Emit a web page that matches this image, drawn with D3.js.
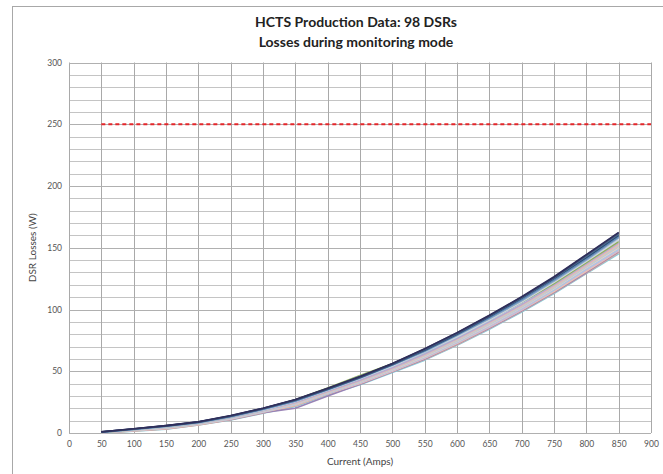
<!DOCTYPE html>
<html><head><meta charset="utf-8">
<script src="https://cdn.jsdelivr.net/npm/d3@7"></script>
<style>
body{margin:0;background:#fff;}
svg{display:block;font-family:Lato,"Open Sans",sans-serif;}
</style></head>
<body>
<svg id="chart" width="663" height="474"></svg>
<script>
const titleLines = ["HCTS Production Data: 98 DSRs", "Losses during monitoring mode"];
const xLabel = "Current (Amps)";
const yLabel = "DSR Losses (W)";
const xTicks = [0,50,100,150,200,250,300,350,400,450,500,550,600,650,700,750,800,850,900];
const yTicks = [0,50,100,150,200,250,300];
const limitValue = 250;
const currents = [50,100,150,200,250,300,350,400,450,500,550,600,650,700,750,800,850];

// Loss curves (W) for the DSRs (lower/pastel first, darker on top)
const dsrLosses = [
  [0.0,1.5,3.0,6.5,10.5,16.0,21.5,31.0,39.0,49.0,59.0,71.0,84.0,98.0,113,129,145],
  [0.1,1.7,3.2,6.6,10.8,16.2,22.0,31.5,39.5,49.5,59.5,71.5,84.5,98.5,113.5,129.5,146],
  [0.2,2.0,3.5,7.0,11.0,16.5,20.0,30.0,39.5,49.5,60.0,72.0,85.0,99.0,114,130,147],
  [0.2,1.8,3.4,6.8,11.2,16.8,22.5,31.8,40.0,50.0,60.5,72.5,85.5,99.5,114.5,131,147.5],
  [0.3,2.1,3.8,7.1,11.4,17.0,23.0,32.0,40.5,50.5,61.0,73.0,86.0,100,115.5,132,148],
  [0.3,2.2,4.0,7.2,11.6,17.2,23.2,32.2,41.0,51.0,61.5,73.5,87.0,101,116,133,149],
  [0.4,2.3,4.1,7.4,11.8,17.4,23.5,32.5,41.3,51.3,62.0,74.0,87.5,101.5,117,134,150],
  [0.4,2.4,4.2,7.5,12.0,17.6,23.8,32.8,41.6,51.6,62.5,74.5,88.0,102,117.5,134.5,151],
  [0.5,2.4,4.3,7.7,12.1,17.8,24.0,33.0,42.0,52.0,63.0,75.0,88.5,102.5,118,135,151.5],
  [0.5,2.5,4.5,7.8,12.3,18.0,24.3,33.2,42.2,52.2,63.2,75.5,89.0,103,118.5,135.5,152],
  [0.5,2.5,4.6,8.0,12.5,18.2,24.5,33.5,42.5,52.5,63.5,76.0,89.5,103.5,119,136,153],
  [0.6,2.6,4.7,8.0,12.6,18.3,24.8,33.8,42.8,52.8,64.0,76.5,90.0,104,120,137,154],
  [0.5,2.6,4.8,8.0,12.8,18.5,25.5,34.5,44.0,54.0,65.0,77.5,91.0,105.5,121,138,156],
  [0.5,2.9,5.0,8.4,13.2,19.5,27.0,36.5,46.5,56.0,67.0,79.0,92.0,106,121,138,155],
  [0.6,2.7,4.9,8.2,12.9,18.7,25.6,34.6,44.2,54.3,65.5,78.0,91.5,106,122,139,156.5],
  [0.7,2.8,5.2,8.3,13.0,19.0,26.0,35.5,46.0,55.0,66.0,79.0,92.5,107,123,140,158],
  [0.6,3.0,5.5,8.5,13.4,19.3,26.0,35.0,44.5,55.0,66.5,79.5,93.5,108,124,141,159],
  [0.7,3.1,5.6,8.6,13.5,19.4,26.2,35.2,44.8,55.2,66.8,79.8,93.8,108.5,124.5,141.5,159.5],
  [0.8,3.2,5.8,8.8,13.6,19.6,26.5,35.5,45.0,55.5,67.0,80.0,94.0,109,125,142,160],
  [0.9,3.3,5.9,8.9,13.8,19.8,26.8,35.8,45.3,55.8,67.5,80.5,94.5,109.5,125.5,143,161],
  [1.0,3.5,6.0,9.0,14.0,20.0,27.0,36.0,45.5,56.0,68.0,81.0,95.0,110,126,144,162],
  [0.9,3.4,6.0,9.1,14.1,20.1,27.2,36.3,45.8,56.3,68.3,81.3,95.3,110.3,126.5,144.5,162.5]
];

const palette = ["#7fd0e0","#d9a7a0","#9983b5","#f2c4a8","#c9b8d8","#a7c8e6","#e8d2c4","#c8c0cc",
  "#b4cfe0","#d6c9b8","#e6b8b4","#b8a9d0","#9fb7cf","#8fae5a","#cfd6de","#8aa6c4",
  "#4f81bd","#6c8fb5","#2c4d75","#4a6a8a","#3b3f6e","#2f2f5a"];

const W = 663, H = 474;
const m = {left:69, right:12, top:62.5, bottom:41};
const svg = d3.select("#chart");

// outer chart border
svg.append("rect").attr("x",12.5).attr("y",6.5).attr("width",W).attr("height",H)
  .attr("fill","none").attr("stroke","#a8a8a8").attr("stroke-width",1);

const x = d3.scaleLinear().domain([0,900]).range([m.left, W-m.right]);
const y = d3.scaleLinear().domain([0,300]).range([H-m.bottom, m.top]);

// minor horizontal grid
const g = svg.append("g");
g.selectAll("line.hm").data(d3.range(0,301,10)).join("line")
  .attr("x1",x(0)).attr("x2",x(900))
  .attr("y1",d=>Math.round(y(d))+0.5).attr("y2",d=>Math.round(y(d))+0.5)
  .attr("stroke","#c4c4c4").attr("stroke-width",1);
// vertical grid
g.selectAll("line.v").data(xTicks).join("line")
  .attr("y1",y(0)).attr("y2",y(300))
  .attr("x1",d=>Math.round(x(d))+0.5).attr("x2",d=>Math.round(x(d))+0.5)
  .attr("stroke","#a9a9a9").attr("stroke-width",1);
// major horizontal grid
g.selectAll("line.hM").data(yTicks).join("line")
  .attr("x1",x(0)).attr("x2",x(900))
  .attr("y1",d=>Math.round(y(d))+0.5).attr("y2",d=>Math.round(y(d))+0.5)
  .attr("stroke","#b0b0b0").attr("stroke-width",1);

// axes
const xAxis = svg.append("g").attr("transform",`translate(0,${y(0)})`)
  .call(d3.axisBottom(x).tickValues(xTicks).tickSize(0).tickPadding(8));
const yAxis = svg.append("g").attr("transform",`translate(${x(0)},0)`)
  .call(d3.axisLeft(y).tickValues(yTicks).tickSize(0).tickPadding(7));
[xAxis,yAxis].forEach(a=>{
  a.select(".domain").remove();
  a.selectAll("text").attr("fill","#555").style("font-size","8.5px").style("font-family","Lato,'Open Sans',sans-serif");
});

// limit line
svg.append("line").attr("x1",x(50)).attr("x2",x(900))
  .attr("y1",y(limitValue)).attr("y2",y(limitValue))
  .attr("stroke","#e4262a").attr("stroke-width",1.8).attr("stroke-dasharray","4,3");

// curves
const line = d3.line().x((d,i)=>x(currents[i])).y(d=>y(d));
svg.append("g").selectAll("path").data(dsrLosses).join("path")
  .attr("d",line).attr("fill","none")
  .attr("stroke",(d,i)=>palette[i%palette.length]).attr("stroke-width",1.6)
  .attr("stroke-linejoin","round");

// titles
svg.append("g").selectAll("text").data(titleLines).join("text")
  .attr("x",356).attr("y",(d,i)=>27+i*20).attr("text-anchor","middle")
  .attr("fill","#222").style("font-size","14px").style("font-weight","bold")
  .text(d=>d);

svg.append("text").attr("x",(x(0)+x(900))/2).attr("y",465).attr("text-anchor","middle")
  .attr("fill","#444").style("font-size","10px").text(xLabel);
svg.append("text").attr("transform",`translate(36,${(y(0)+y(300))/2}) rotate(-90)`)
  .attr("text-anchor","middle").attr("fill","#444").style("font-size","10px").text(yLabel);
</script>
</body></html>
